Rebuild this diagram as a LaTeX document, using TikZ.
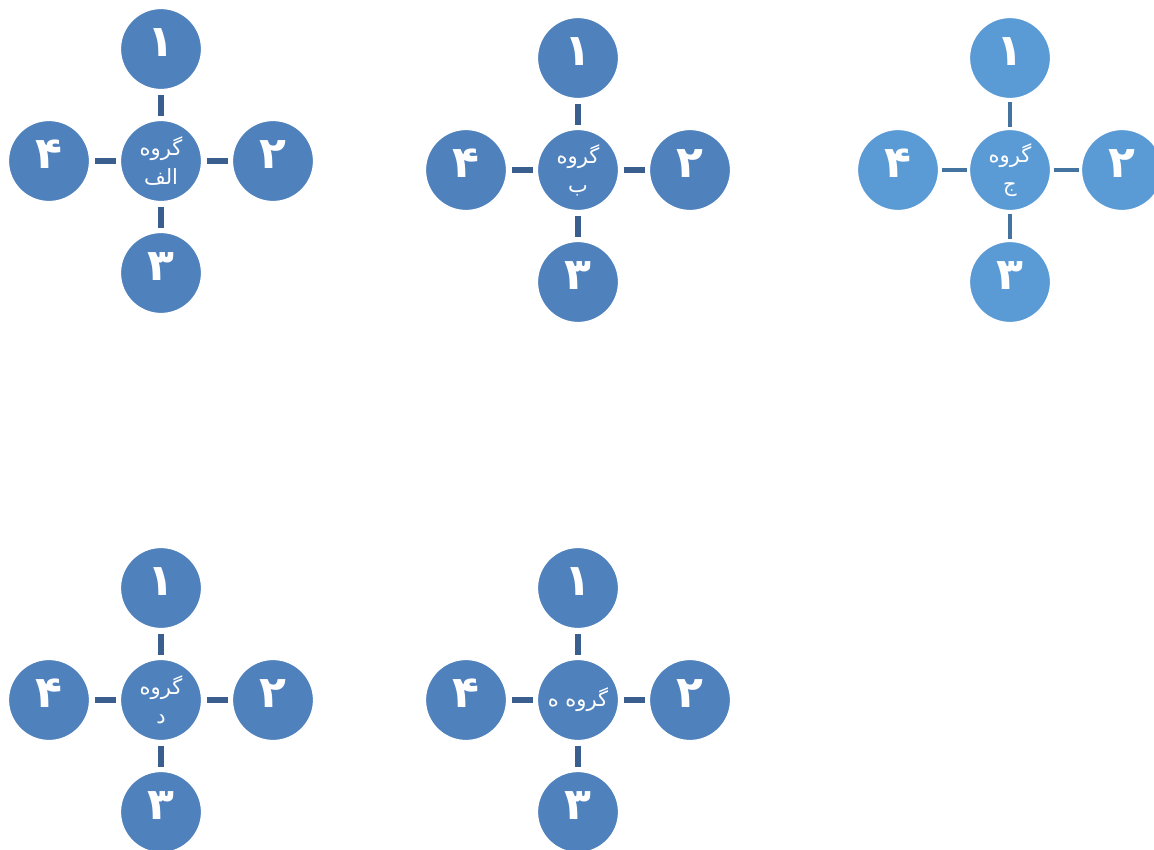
\documentclass[tikz,border=0pt]{standalone}
\usepackage{fontspec}
\newfontfamily\farsi[Script=Arabic]{DejaVu Sans}
\TeXXeTstate=1
\usetikzlibrary{positioning}
\definecolor{hubblue}{HTML}{4F81BD}
\definecolor{hubline}{HTML}{3A5F8F}
\definecolor{skyblue}{HTML}{5B9BD5}
\definecolor{skyline}{HTML}{44739F}

\begin{document}
\begin{tikzpicture}[x=1pt,y=-1pt,
  ball/.style={circle,fill=hubblue,draw=white,line width=1.2pt,outer sep=0pt,
    minimum size=81pt,inner sep=0pt,text=white},
  leaf/.style={ball,font=\farsi\bfseries\fontsize{44}{44}\selectfont,
    text height=30pt,text depth=16pt},
  hub/.style={ball,align=center,font=\farsi\fontsize{21}{29}\selectfont},
  link/.style={draw=hubline,line width=6.5pt,shorten <=5pt,shorten >=5pt},
  light/.style={fill=skyblue},
  lightlink/.style={draw=skyline,line width=4.5pt,shorten <=3pt,shorten >=3pt},
  node distance=31pt]
  \useasboundingbox (0,0) rectangle (1154,849);
  % group alef
  \node[hub] (gA) at (161,161) {\beginR گروه\endR\\\beginR الف\endR};
  \node[leaf,above=of gA] (gA1) {۱};
  \node[leaf,right=of gA] (gA2) {۲};
  \node[leaf,below=of gA] (gA3) {۳};
  \node[leaf,left=of gA] (gA4) {۴};
  \draw[link] (gA) -- (gA1);
  \draw[link] (gA) -- (gA2);
  \draw[link] (gA) -- (gA3);
  \draw[link] (gA) -- (gA4);
  % group be
  \node[hub] (gB) at (578,170) {\beginR گروه\endR\\\beginR ب\endR};
  \node[leaf,above=of gB] (gB1) {۱};
  \node[leaf,right=of gB] (gB2) {۲};
  \node[leaf,below=of gB] (gB3) {۳};
  \node[leaf,left=of gB] (gB4) {۴};
  \draw[link] (gB) -- (gB1);
  \draw[link] (gB) -- (gB2);
  \draw[link] (gB) -- (gB3);
  \draw[link] (gB) -- (gB4);
  % group jim
  \node[hub,light] (gC) at (1010,170) {\beginR گروه\endR\\\beginR ج\endR};
  \node[leaf,light,above=of gC] (gC1) {۱};
  \node[leaf,light,right=of gC] (gC2) {۲};
  \node[leaf,light,below=of gC] (gC3) {۳};
  \node[leaf,light,left=of gC] (gC4) {۴};
  \draw[lightlink] (gC) -- (gC1);
  \draw[lightlink] (gC) -- (gC2);
  \draw[lightlink] (gC) -- (gC3);
  \draw[lightlink] (gC) -- (gC4);
  % group dal
  \node[hub] (gD) at (161,700) {\beginR گروه\endR\\\beginR د\endR};
  \node[leaf,above=of gD] (gD1) {۱};
  \node[leaf,right=of gD] (gD2) {۲};
  \node[leaf,below=of gD] (gD3) {۳};
  \node[leaf,left=of gD] (gD4) {۴};
  \draw[link] (gD) -- (gD1);
  \draw[link] (gD) -- (gD2);
  \draw[link] (gD) -- (gD3);
  \draw[link] (gD) -- (gD4);
  % group he
  \node[hub] (gE) at (578,700) {\beginR گروه ه\endR};
  \node[leaf,above=of gE] (gE1) {۱};
  \node[leaf,right=of gE] (gE2) {۲};
  \node[leaf,below=of gE] (gE3) {۳};
  \node[leaf,left=of gE] (gE4) {۴};
  \draw[link] (gE) -- (gE1);
  \draw[link] (gE) -- (gE2);
  \draw[link] (gE) -- (gE3);
  \draw[link] (gE) -- (gE4);
\end{tikzpicture}
\end{document}
